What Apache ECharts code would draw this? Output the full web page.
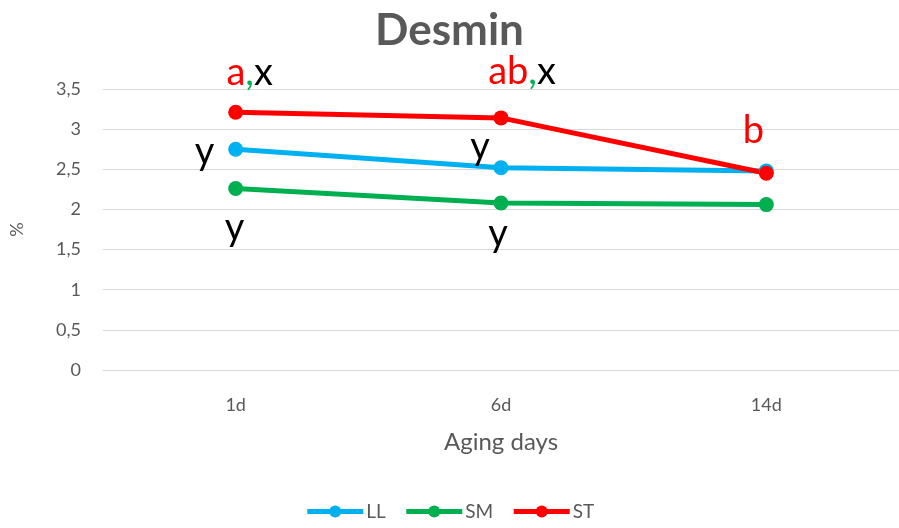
<!DOCTYPE html>
<html>
<head>
<meta charset="utf-8">
<script src="https://cdn.jsdelivr.net/npm/echarts@6/dist/echarts.min.js"></script>
<style>
  html, body { margin: 0; padding: 0; background: #fff; }
  #chart { width: 899px; height: 528px; }
</style>
</head>
<body>
<div id="chart"></div>
<script>
// Desmin content (%) by aging day
const categories = ['1d', '6d', '14d'];
const llValues = [2.75, 2.52, 2.48];
const smValues = [2.26, 2.08, 2.06];
const stValues = [3.21, 3.14, 2.45];
const yTicks = [0, 0.5, 1, 1.5, 2, 2.5, 3, 3.5];

// significance letters attached to each point
const stLetters = [['a', 'x'], ['ab', 'x'], ['b', '']];
const llLetters = ['y', 'y', ''];
const smLetters = ['y', 'y', ''];

const FONT = 'Lato, "Open Sans", sans-serif';
const GREY = '#595959';
const COLORS = { LL: '#00b0f0', SM: '#00b050', ST: '#ff0000' };

// label placement relative to each point
const stOffsets = [[14, -40], [21, -46], [-13, -43]];
const llOffsets = [[-31, 3], [-21, -21], [0, 0]];
const smOffsets = [[-1, 39], [-3, 31], [0, 0]];

const letterStyle = { fontFamily: FONT, fontSize: 38, color: '#000' };

function stItems() {
  return stValues.map((v, i) => {
    const [sig, grp] = stLetters[i];
    const text = grp ? `{r|${sig}}{g|,}{k|${grp}}` : `{r|${sig}}`;
    return {
      value: v,
      label: {
        show: true,
        position: 'inside',
        offset: stOffsets[i],
        formatter: text,
        rich: {
          r: Object.assign({}, letterStyle, { color: '#ff0000' }),
          g: Object.assign({}, letterStyle, { color: '#00b050' }),
          k: Object.assign({}, letterStyle, { color: '#000' })
        }
      }
    };
  });
}

function plainItems(values, letters, offsets) {
  return values.map((v, i) => ({
    value: v,
    label: {
      show: !!letters[i],
      position: 'inside',
      offset: offsets[i],
      formatter: letters[i],
      fontFamily: FONT,
      fontSize: 38,
      color: '#000'
    }
  }));
}

function lineSeries(name, data) {
  return {
    name: name,
    type: 'line',
    data: data,
    symbol: 'circle',
    symbolSize: 15,
    color: COLORS[name],
    lineStyle: { width: 5, color: COLORS[name] },
    itemStyle: { color: COLORS[name] },
    emphasis: { disabled: true },
    z: 2
  };
}

const chart = echarts.init(document.getElementById('chart'), null, { renderer: 'canvas' });
chart.setOption({
  animation: false,
  backgroundColor: '#fff',
  title: {
    text: 'Desmin',
    left: 'center',
    top: 4,
    textStyle: { fontFamily: FONT, fontWeight: 'bold', fontSize: 44, color: GREY }
  },
  legend: {
    bottom: 2,
    left: 'center',
    itemWidth: 56,
    itemHeight: 15,
    itemGap: 18,
    lineStyle: { width: 5 },
    textStyle: { fontFamily: FONT, fontSize: 19, color: GREY, padding: [0, 0, 0, -2] },
    data: ['LL', 'SM', 'ST']
  },
  grid: { left: 99, top: 89, width: 804, height: 281, containLabel: false },
  xAxis: {
    type: 'category',
    data: categories,
    boundaryGap: true,
    axisLine: { show: true, lineStyle: { color: '#d9d9d9', width: 1 } },
    axisTick: { show: false },
    axisLabel: { fontFamily: FONT, fontSize: 18, color: GREY, margin: 26 },
    name: 'Aging days',
    nameLocation: 'middle',
    nameGap: 72,
    nameTextStyle: { fontFamily: FONT, fontSize: 24, color: GREY, verticalAlign: 'middle' }
  },
  yAxis: {
    type: 'value',
    min: yTicks[0],
    max: yTicks[yTicks.length - 1],
    interval: yTicks[1] - yTicks[0],
    axisLine: { show: false },
    axisTick: { show: false },
    splitLine: { lineStyle: { color: '#d9d9d9', width: 1 } },
    axisLabel: {
      fontFamily: FONT, fontSize: 18, color: GREY, margin: 22,
      formatter: v => String(v).replace('.', ',')
    },
    name: '%',
    nameLocation: 'middle',
    nameGap: 77,
    nameRotate: 90,
    nameTextStyle: { fontFamily: FONT, fontSize: 18, color: GREY }
  },
  series: [
    lineSeries('LL', plainItems(llValues, llLetters, llOffsets)),
    lineSeries('SM', plainItems(smValues, smLetters, smOffsets)),
    lineSeries('ST', stItems())
  ]
});
</script>
</body>
</html>
